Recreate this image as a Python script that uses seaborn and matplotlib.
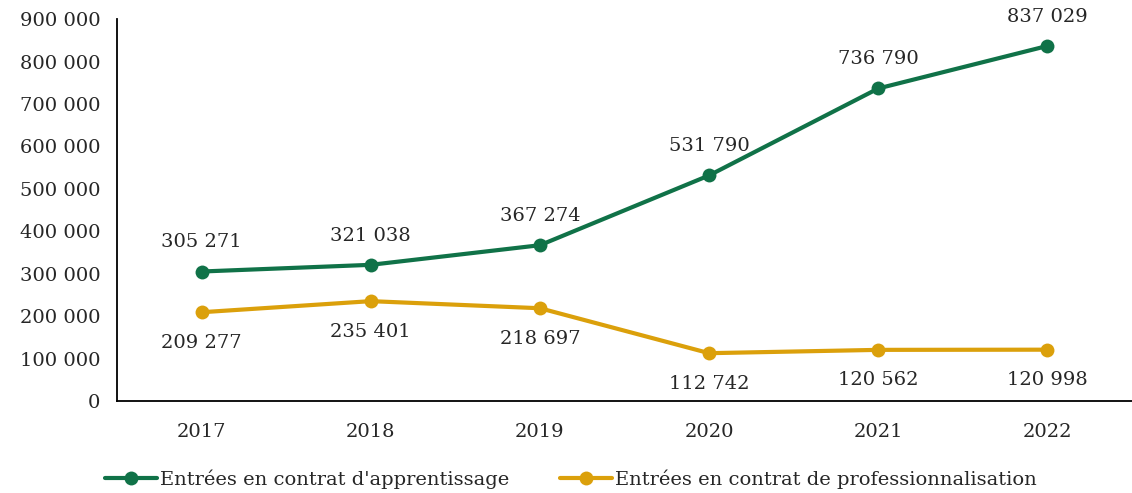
import pandas as pd
import seaborn as sns
import matplotlib.pyplot as plt
from matplotlib.ticker import FuncFormatter, FixedLocator

years = ["2017", "2018", "2019", "2020", "2021", "2022"]
apprentissage = [305271, 321038, 367274, 531790, 736790, 837029]
professionnalisation = [209277, 235401, 218697, 112742, 120562, 120998]
series_names = ["Entrées en contrat d'apprentissage",
                "Entrées en contrat de professionnalisation"]

df = pd.DataFrame({
    "annee": years * 2,
    "valeur": apprentissage + professionnalisation,
    "serie": [series_names[0]] * 6 + [series_names[1]] * 6,
})

sns.set_style("white")
plt.rcParams["font.family"] = ["DejaVu Serif"]
fs = 14

green = "#107248"
gold = "#DBA00B"

fig = plt.figure(figsize=(11.32, 4.93), dpi=100)
ax = fig.add_axes([0.1034, 0.1866, 0.8966, 0.7744])

sns.lineplot(data=df, x="annee", y="valeur", hue="serie", palette=[green, gold],
             marker="o", markersize=10, markeredgewidth=0, linewidth=3, ax=ax, sort=False)

def fmt(v):
    return f"{int(v):,}".replace(",", " ")

for i, v in enumerate(apprentissage):
    ax.annotate(fmt(v), (i, v), xytext=(0, 21), textcoords="offset points",
                ha="center", va="center", fontsize=fs)
for i, v in enumerate(professionnalisation):
    ax.annotate(fmt(v), (i, v), xytext=(0, -22), textcoords="offset points",
                ha="center", va="center", fontsize=fs)

ax.set_xlim(-0.5, 5.5)
ax.set_ylim(0, 900000)
ax.set_yticks(range(0, 900001, 100000))
ax.yaxis.set_major_formatter(FuncFormatter(lambda v, p: fmt(v)))
ax.xaxis.set_minor_locator(FixedLocator([i - 0.5 for i in range(7)]))
ax.tick_params(axis="x", which="major", length=0, pad=16, labelsize=fs)
ax.tick_params(axis="x", which="minor", length=6, width=1.3, direction="out", color="black")
ax.tick_params(axis="y", length=6, width=1.3, direction="out", color="black", labelsize=fs, pad=6)
ax.set_xlabel("")
ax.set_ylabel("")
for s in ["top", "right"]:
    ax.spines[s].set_visible(False)
for s in ["left", "bottom"]:
    ax.spines[s].set_color("black")
    ax.spines[s].set_linewidth(1.3)

ax.legend(loc="center", bbox_to_anchor=(0.447, -0.205), ncol=2, frameon=False,
          fontsize=fs, handlelength=2.7, columnspacing=2.6, handletextpad=0.15)

fig.savefig("out.png", dpi=100)
